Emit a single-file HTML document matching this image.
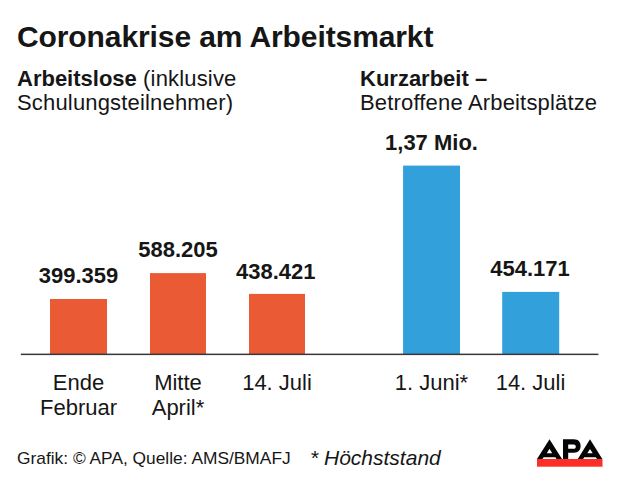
<!DOCTYPE html>
<html><head><meta charset="utf-8">
<style>
html,body{margin:0;padding:0;}
body{width:620px;height:480px;background:#fff;position:relative;overflow:hidden;font-family:"Liberation Sans",sans-serif;color:#161616;}
.t{position:absolute;white-space:nowrap;line-height:1;}
.b{font-weight:bold;}
.c{text-align:center;width:120px;}
.r{letter-spacing:0.17px;}
.v{font-size:22px;font-weight:bold;transform:scaleY(1.001);}
svg{position:absolute;left:0;top:0;}
</style></head><body>
<svg width="620" height="480" viewBox="0 0 620 480">
  <rect x="50" y="299" width="57" height="55.5" fill="#EA5B35"/>
  <rect x="150" y="273.1" width="56" height="81.4" fill="#EA5B35"/>
  <rect x="249" y="293.9" width="56" height="60.6" fill="#EA5B35"/>
  <rect x="403.1" y="165.6" width="56.9" height="188.9" fill="#32A0DA"/>
  <rect x="502.2" y="291.9" width="57" height="62.6" fill="#32A0DA"/>
  <rect x="20.8" y="353.6" width="577.6" height="1.5" fill="#38363b"/>
  <rect x="537" y="459" width="65.5" height="7.7" fill="#FD2E25"/>
</svg>
<div class="t b" style="left:17px;top:22.2px;font-size:30px;letter-spacing:-0.1px;">Coronakrise am Arbeitsmarkt</div>
<div class="t" style="left:17px;top:67.1px;font-size:22px;line-height:24px;"><b>Arbeitslose</b><span class="r"> (inklusive<br>Schulungsteilnehmer)</span></div>
<div class="t" style="left:360px;top:67.1px;font-size:22px;line-height:24px;"><b>Kurzarbeit –</b><br><span class="r">Betroffene Arbeitsplätze</span></div>

<div class="t c v" style="left:18.5px;top:265.3px;">399.359</div>
<div class="t c v" style="left:118px;top:239.4px;">588.205</div>
<div class="t c v" style="left:215.7px;top:261.3px;">438.421</div>
<div class="t c v" style="left:371.5px;top:132px;">1,37 Mio.</div>
<div class="t c v" style="left:470px;top:258px;">454.171</div>

<div class="t c" style="left:18.5px;top:370.3px;font-size:22px;line-height:25px;">Ende<br>Februar</div>
<div class="t c" style="left:118px;top:370.3px;font-size:22px;line-height:25px;">Mitte<br>April*</div>
<div class="t c" style="left:217px;top:370.3px;font-size:22px;line-height:25px;">14. Juli</div>
<div class="t c" style="left:371.5px;top:370.3px;font-size:22px;line-height:25px;">1. Juni*</div>
<div class="t c" style="left:470.5px;top:370.3px;font-size:22px;line-height:25px;">14. Juli</div>

<div class="t" style="left:17px;top:449.7px;font-size:17.35px;">Grafik: © APA, Quelle: AMS/BMAFJ</div>
<div class="t" style="left:310px;top:447.1px;font-size:21px;font-style:italic;">* Höchststand</div>

<svg width="620" height="480" viewBox="0 0 620 480">
  <path fill="#050505" fill-rule="evenodd" d="M549.5 439.3 L562 459 L556.6 459 L555.3 457.3 L543.7 457.3 L542.4 459 L537 459 Z M549.5 448.7 L552.2 453.2 L546.8 453.2 Z"/>
  <path fill="#050505" fill-rule="evenodd" d="M563 439.3 L573.8 439.3 C578.6 439.3 580.6 442.2 580.6 446 C580.6 449.8 578.6 452.7 573.8 452.7 L568.2 452.7 L568.2 459 L563 459 Z M568.2 444.6 L573.6 444.6 C575.2 444.6 575.8 445.6 575.8 446.7 C575.8 447.8 575.2 448.8 573.6 448.8 L568.2 448.8 Z"/>
  <path fill="#050505" fill-rule="evenodd" d="M590 439.3 L602.3 459 L597 459 L595.8 457.3 L584.3 457.3 L583.1 459 L577.8 459 Z M590 449 L592.7 453.3 L587.3 453.3 Z"/>
</svg>
</body></html>
